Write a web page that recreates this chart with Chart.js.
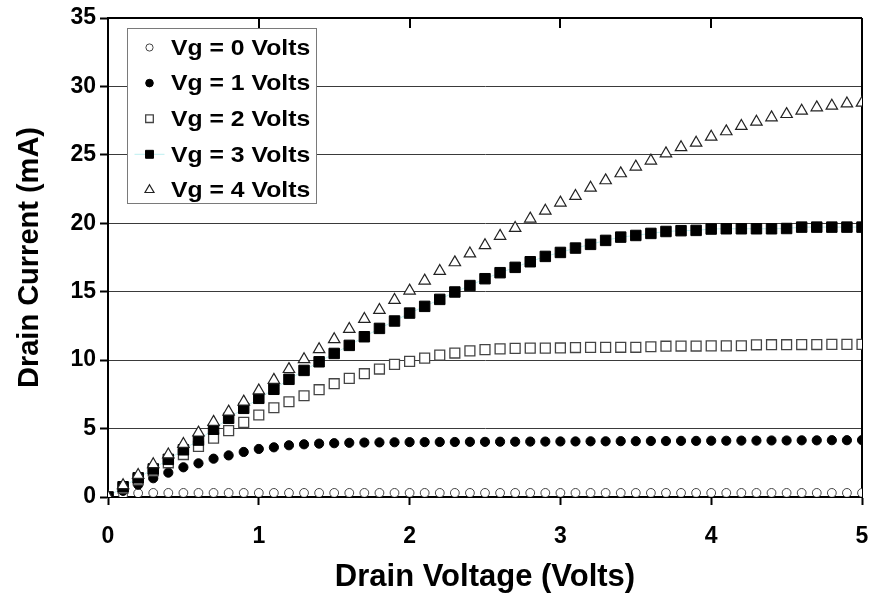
<!DOCTYPE html>
<html><head><meta charset="utf-8">
<script src="https://cdn.jsdelivr.net/npm/chart.js@4.4.0/dist/chart.umd.min.js"></script>
<style>html,body{margin:0;padding:0;background:#fff;}#wrap{width:873px;height:596px;}</style>
</head><body><div id="wrap"><canvas id="c" width="873" height="596"></canvas></div>
<script>
const drainVoltage = [0,0.1,0.2,0.3,0.4,0.5,0.6,0.7,0.8,0.9,1.0,1.1,1.2,1.3,1.4,1.5,1.6,1.7,1.8,1.9,2.0,2.1,2.2,2.3,2.4,2.5,2.6,2.7,2.8,2.9,3.0,3.1,3.2,3.3,3.4,3.5,3.6,3.7,3.8,3.9,4.0,4.1,4.2,4.3,4.4,4.5,4.6,4.7,4.8,4.9,5.0];
const seriesLabels = ['Vg = 0 Volts','Vg = 1 Volts','Vg = 2 Volts','Vg = 3 Volts','Vg = 4 Volts'];
const vg0 = [0,0.15,0.28,0.3,0.3,0.3,0.3,0.3,0.3,0.3,0.3,0.3,0.3,0.3,0.3,0.3,0.3,0.3,0.3,0.3,0.3,0.3,0.3,0.3,0.3,0.3,0.3,0.3,0.3,0.3,0.3,0.3,0.3,0.3,0.3,0.3,0.3,0.3,0.3,0.3,0.3,0.3,0.3,0.3,0.3,0.3,0.3,0.3,0.3,0.3,0.3];
const vg1 = [0,0.45,0.9,1.37,1.78,2.17,2.46,2.8,3.04,3.29,3.51,3.63,3.78,3.85,3.9,3.93,3.96,3.98,3.99,4.0,4.01,4.01,4.02,4.02,4.03,4.03,4.04,4.04,4.05,4.05,4.06,4.06,4.07,4.07,4.08,4.08,4.09,4.09,4.1,4.1,4.11,4.11,4.12,4.12,4.13,4.13,4.14,4.14,4.15,4.15,4.16];
const vg2 = [0,0.65,1.25,1.9,2.5,3.1,3.7,4.3,4.85,5.45,5.99,6.52,6.96,7.4,7.84,8.28,8.67,9.01,9.35,9.69,9.91,10.15,10.37,10.52,10.68,10.77,10.82,10.86,10.88,10.88,10.89,10.92,10.93,10.93,10.94,10.94,10.98,11.02,11.03,11.03,11.04,11.04,11.05,11.12,11.13,11.13,11.14,11.14,11.15,11.15,11.15];
const vg3 = [0,0.75,1.4,2.05,2.75,3.45,4.16,4.95,5.75,6.48,7.21,7.87,8.6,9.25,9.88,10.49,11.08,11.71,12.32,12.86,13.44,13.93,14.44,14.98,15.45,15.95,16.39,16.78,17.19,17.58,17.87,18.19,18.46,18.75,18.99,19.11,19.26,19.4,19.46,19.48,19.58,19.6,19.6,19.6,19.6,19.62,19.72,19.72,19.72,19.72,19.72];
const vg4 = [0,0.85,1.6,2.39,3.1,3.87,4.7,5.48,6.23,6.96,7.77,8.55,9.34,10.06,10.79,11.52,12.27,13.0,13.66,14.39,15.07,15.8,16.51,17.14,17.78,18.39,19.07,19.65,20.33,20.91,21.5,21.99,22.59,23.13,23.64,24.13,24.57,25.1,25.55,25.88,26.32,26.71,27.1,27.41,27.73,27.97,28.22,28.46,28.58,28.75,28.8];
const xTickLabels = ['0','1','2','3','4','5'];
const yTickLabels = ['0','5','10','15','20','25','30','35'];

const FONT = '"Liberation Sans", Arial, sans-serif';
Chart.defaults.font.family = FONT;
Chart.defaults.color = '#000';

const toPts = arr => arr.map((v, i) => ({x: drainVoltage[i], y: v}));
const styles = [
  {pointStyle:'circle', radius:4.4, bg:'#fff', border:'#444', bw:1, lr:3.6, order:4},
  {pointStyle:'circle', radius:4.6, bg:'#000', border:'#000', bw:1, lr:3.8, order:3},
  {pointStyle:'rect', radius:7.0, bg:'#fff', border:'#444', bw:1.3, lr:5.4, order:2},
  {pointStyle:'rect', radius:7.4, bg:'#000', border:'#000', bw:1, lr:5.6, order:1, line:true},
  {pointStyle:'triangle', radius:6.6, bg:'#fff', border:'#222', bw:1.2, lr:5.2, order:0}
];
const seriesData = [vg0, vg1, vg2, vg3, vg4];
const datasets = seriesData.map((arr, i) => ({
  label: seriesLabels[i],
  data: toPts(arr),
  showLine: !!styles[i].line,
  borderColor: '#bdeff0',
  borderWidth: 1,
  pointStyle: styles[i].pointStyle,
  pointRadius: styles[i].radius,
  pointHoverRadius: styles[i].radius,
  pointBackgroundColor: styles[i].bg,
  pointBorderColor: styles[i].border,
  pointBorderWidth: styles[i].bw,
  order: styles[i].order
}));

const framePlugin = {
  id: 'frame',
  beforeDatasetsDraw(chart) {
    const {ctx, chartArea: ca} = chart;
    const xs = chart.scales.x;
    ctx.save();
    ctx.strokeStyle = '#000';
    ctx.lineWidth = 2;
    ctx.beginPath();
    ctx.moveTo(ca.left, ca.top); ctx.lineTo(ca.right, ca.top);
    ctx.moveTo(ca.right, ca.top); ctx.lineTo(ca.right, ca.bottom);
    ctx.stroke();
    xs.ticks.forEach(t => {
      const px = Math.round(xs.getPixelForValue(t.value));
      ctx.beginPath(); ctx.moveTo(px, ca.top); ctx.lineTo(px, ca.top + 10); ctx.stroke();
    });
    ctx.restore();
  }
};

const legendPlugin = {
  id: 'boxLegend',
  afterDatasetsDraw(chart) {
    const {ctx, chartArea: ca} = chart;
    const x0 = ca.left + 19, y0 = ca.top + 10, w = 189, h = 175;
    ctx.save();
    ctx.fillStyle = '#fff';
    ctx.fillRect(x0, y0, w, h);
    ctx.strokeStyle = '#7a7a7a';
    ctx.lineWidth = 1;
    ctx.strokeRect(x0 + 0.5, y0 + 0.5, w, h);
    chart.data.datasets.forEach((ds, i) => {
      const cy = y0 + 19.5 + i * 35.6;
      const cx = x0 + 22.5;
      if (ds.showLine) {
        ctx.strokeStyle = ds.borderColor; ctx.lineWidth = 1;
        ctx.beginPath(); ctx.moveTo(cx - 15, cy); ctx.lineTo(cx + 15, cy); ctx.stroke();
      }
      ctx.fillStyle = ds.pointBackgroundColor;
      ctx.strokeStyle = ds.pointBorderColor;
      ctx.lineWidth = ds.pointBorderWidth;
      Chart.helpers.drawPoint(ctx, {pointStyle: ds.pointStyle, radius: styles[i].lr, borderWidth: ds.pointBorderWidth, rotation: 0}, cx, cy);
      ctx.save();
      ctx.translate(x0 + 44, cy + 1);
      ctx.scale(1.1, 1);
      ctx.fillStyle = '#000';
      ctx.font = 'bold 22.5px ' + FONT;
      ctx.textBaseline = 'middle';
      ctx.textAlign = 'left';
      ctx.fillText(ds.label, 0, 0);
      ctx.restore();
    });
    ctx.restore();
  }
};

new Chart(document.getElementById('c'), {
  type: 'scatter',
  data: {datasets},
  plugins: [framePlugin, legendPlugin],
  options: {
    responsive: false,
    devicePixelRatio: 1,
    animation: false,
    events: [],
    layout: {padding: {top: 18, right: 11, left: 0, bottom: 0}},
    plugins: {legend: {display: false}, tooltip: {enabled: false}},
    scales: {
      x: {
        type: 'linear', min: 0, max: 5,
        afterFit(s) { s.height = 99; },
        afterBuildTicks(s) { s.ticks = xTickLabels.map(t => ({value: Number(t)})); },
        ticks: {callback: (v, i) => xTickLabels[i], font: {size: 23, weight: 'bold', lineHeight: 2.45}, padding: 3, maxRotation: 0, color: '#000'},
        grid: {drawOnChartArea: false, drawTicks: true, tickLength: 8, tickWidth: 2, tickColor: '#000'},
        border: {display: true, color: '#000', width: 2},
        title: {display: true, text: 'Drain Voltage (Volts)', font: {size: 31, weight: 'bold'}, color: '#000', padding: {top: 0, bottom: 0}}
      },
      y: {
        type: 'linear', min: 0, max: 35,
        afterFit(s) { s.width = 108; },
        afterBuildTicks(s) { s.ticks = yTickLabels.map(t => ({value: Number(t)})); },
        ticks: {callback: (v, i) => yTickLabels[i], font: {size: 23, weight: 'bold'}, padding: 4, color: '#000'},
        grid: {drawOnChartArea: true, color: '#3a3a3a', lineWidth: 1, drawTicks: true, tickLength: 8, tickWidth: 2, tickColor: '#000'},
        border: {display: true, color: '#000', width: 2},
        title: {display: true, text: 'Drain Current (mA)', font: {size: 29, weight: 'bold'}, color: '#000', padding: {top: 13, bottom: 0}}
      }
    }
  }
});
</script></body></html>
